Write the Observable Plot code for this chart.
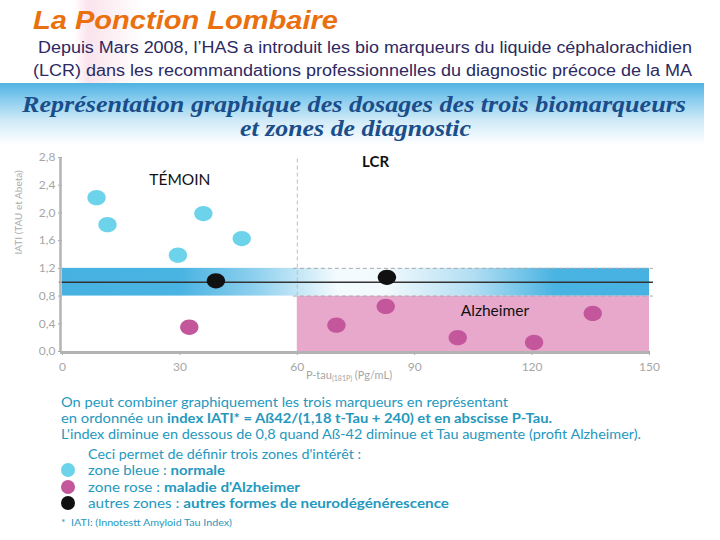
<!DOCTYPE html>
<html><head><meta charset="utf-8">
<script src="https://cdn.jsdelivr.net/npm/d3@7"></script>
<script src="https://cdn.jsdelivr.net/npm/@observablehq/plot@0.6"></script>
<style>
body{margin:0;width:720px;height:540px;overflow:hidden;background:#fff;position:relative;font-family:Lato,"Noto Sans",sans-serif}
.t{position:absolute;white-space:nowrap;line-height:1;transform-origin:0 50%}
#chart{position:absolute;left:0;top:140px}
.teal{color:#2598be;font-family:Lato,sans-serif;font-size:14px}
.teal b{font-weight:700}
.leg{position:absolute;width:14px;height:14px;border-radius:50%}
</style></head><body>
<div style="position:absolute;left:74px;top:0;width:70px;height:84px;background:linear-gradient(to right,rgba(248,218,230,0),rgba(248,218,230,.75) 20%,rgba(250,228,237,.35) 70%,rgba(255,255,255,0))"></div>
<div style="position:absolute;left:0;top:83px;width:704px;height:62px;background:linear-gradient(#4fb3e1,#86cbee 25%,#cfeaf7 60%,#ffffff 100%)"></div>

<div class="t" data-w="305" style="left:33px;top:6px;font:italic bold 25px 'Liberation Sans',Arial,sans-serif;color:#ea700e">La Ponction Lombaire</div>
<div class="t" data-w="654" style="left:38px;top:39px;font:16px 'Liberation Sans',Arial,sans-serif;color:#2b2a63">Depuis Mars 2008, l’HAS a introduit les bio marqueurs du liquide céphalorachidien</div>
<div class="t" data-w="659" style="left:33px;top:62px;font:16px 'Liberation Sans',Arial,sans-serif;color:#2b2a63">(LCR) dans les recommandations professionnelles du diagnostic précoce de la MA</div>

<div class="t" data-w="664" style="left:22px;top:92px;font:italic bold 23px 'Liberation Serif',serif;color:#1a4d8a">Représentation graphique des dosages des trois biomarqueurs</div>
<div class="t" data-w="231" style="left:240px;top:116px;font:italic bold 23px 'Liberation Serif',serif;color:#1a4d8a">et zones de diagnostic</div>

<div id="chart"></div>

<div class="t teal" data-w="447" style="left:61px;top:395px">On peut combiner graphiquement les trois marqueurs en représentant</div>
<div class="t teal" data-w="491" style="left:61px;top:411px">en ordonnée un <b>index IATI* = Aß42/(1,18 t-Tau + 240) et en abscisse P-Tau.</b></div>
<div class="t teal" data-w="580" style="left:61px;top:427px">L'index diminue en dessous de 0,8 quand Aß-42 diminue et Tau augmente (profit Alzheimer).</div>
<div class="t teal" data-w="273" style="left:88px;top:447px">Ceci permet de définir trois zones d'intérêt :</div>
<div class="leg" style="left:61px;top:463px;background:#6dd3ea"></div>
<div class="t teal" data-w="137" style="left:88px;top:463px">zone bleue : <b>normale</b></div>
<div class="leg" style="left:61px;top:480px;background:#c4579c"></div>
<div class="t teal" data-w="212" style="left:88px;top:480px">zone rose : <b>maladie d'Alzheimer</b></div>
<div class="leg" style="left:61px;top:496px;background:#111"></div>
<div class="t teal" data-w="361" style="left:88px;top:496px">autres zones : <b>autres formes de neurodégénérescence</b></div>
<div class="t teal" data-w="171" style="left:61px;top:517px;font-size:10px">* &nbsp;IATI: (Innotestt Amyloid Tau Index)</div>

<script>
// ---- data ----
const xTicks = [0, 30, 60, 90, 120, 150];
const yTicks = [0, 0.4, 0.8, 1.2, 1.6, 2.0, 2.4, 2.8];
const normalX = [8.7, 11.5, 36.0, 45.8, 29.5];
const normalY = [2.22, 1.83, 1.99, 1.63, 1.39];
const alzX = [32.4, 70.0, 82.6, 101.0, 120.5, 135.5];
const alzY = [0.35, 0.38, 0.65, 0.20, 0.13, 0.55];
const otherX = [39.2, 82.9];
const otherY = [1.02, 1.07];
const zoneLabels = ["TÉMOIN", "Alzheimer"];
const zoneLabelX = [30, 110.5];
const zoneLabelY = [2.47, 0.58];
const fluidLabel = ["LCR"];
const fluidLabelX = [80];
const fluidLabelY = [2.73];
const bandLow = 0.8, bandHigh = 1.2, refLine = 1.0, cutoffX = 60;
const xMax = 150, yMax = 2.8;

const pts = (xs, ys) => xs.map((x, i) => ({x, y: ys[i]}));
const lbls = (ts, xs, ys) => ts.map((t, i) => ({t, x: xs[i], y: ys[i]}));
const ellipse = {
  draw(ctx, size) {
    const r = Math.sqrt(size / Math.PI), rx = r * 1.08, ry = r * 0.9, k = 0.5523;
    ctx.moveTo(rx, 0);
    ctx.bezierCurveTo(rx, ry * k, rx * k, ry, 0, ry);
    ctx.bezierCurveTo(-rx * k, ry, -rx, ry * k, -rx, 0);
    ctx.bezierCurveTo(-rx, -ry * k, -rx * k, -ry, 0, -ry);
    ctx.bezierCurveTo(rx * k, -ry, rx, -ry * k, rx, 0);
    ctx.closePath();
  }
};
const gradDefs = () => {
  const defs = d3.create("svg:defs");
  const g = defs.append("linearGradient").attr("id", "bandGrad").attr("x1", 0).attr("x2", 1).attr("y1", 0).attr("y2", 0);
  [[0, "#47b2e2"], [0.2, "#49b3e2"], [0.33, "#8fd0ee"], [0.47, "#f4fbfe"], [0.55, "#f2fafd"], [0.7, "#b2def3"], [0.84, "#49b3e2"], [1, "#47b2e2"]]
    .forEach(([o, c]) => g.append("stop").attr("offset", o).attr("stop-color", c));
  return defs.node();
};

const fmt = d => d3.format(".1f")(d).replace(".", ",");
const chart = Plot.plot({
  width: 720, height: 250,
  marginLeft: 62, marginRight: 71, marginTop: 17, marginBottom: 39,
  x: {domain: [0, xMax]},
  y: {domain: [0, yMax]},
  style: {fontFamily: "Lato, sans-serif", background: "transparent", overflow: "visible"},
  marks: [
    gradDefs,
    Plot.rect([0], {x1: cutoffX, x2: xMax, y1: 0, y2: bandLow, fill: "#e7a8cb"}),
    Plot.rect([0], {x1: 0, x2: xMax, y1: bandLow, y2: bandHigh, fill: "url(#bandGrad)"}),
    Plot.ruleY([bandLow, bandHigh], {x1: cutoffX - 1, x2: xMax + 1, stroke: "#a9a9a9", strokeDasharray: "4,3"}),
    Plot.ruleX([cutoffX], {y1: bandLow, y2: yMax, stroke: "#bdbdbd", strokeDasharray: "4,3"}),
    Plot.ruleY([refLine], {x1: -0.8, x2: xMax + 1, stroke: "#333", strokeWidth: 1.5}),
    Plot.axisY({ticks: yTicks, tickFormat: fmt, tickSize: 4, tickPadding: 3, fontSize: 12, color: "#a6a6a6", label: null}),
    Plot.axisX({ticks: xTicks, tickSize: 4, tickPadding: 7, fontSize: 12, color: "#a6a6a6", label: null}),
    Plot.ruleX([0], {y1: 0, y2: yMax, stroke: "#b3b3b3", strokeWidth: 2.5, dx: -2}),
    Plot.ruleY([0], {x1: -0.5, x2: xMax, stroke: "#b3b3b3", strokeWidth: 3, dy: 1}),
    Plot.text(["IATI (TAU et Abeta)"], {frameAnchor: "left", rotate: -90, dx: -44, fontSize: 10, fill: "#ababab"}),
    Plot.text(["P-tau (Pg/mL)"], {frameAnchor: "bottom", dy: 27, dx: -7, fontSize: 11, fill: "#a6a6a6"}),
    Plot.dot(pts(normalX, normalY), {x: "x", y: "y", r: 8.5, symbol: ellipse, fill: "#6dd3ea"}),
    Plot.dot(pts(alzX, alzY), {x: "x", y: "y", r: 8.5, symbol: ellipse, fill: "#c4579c"}),
    Plot.dot(pts(otherX, otherY), {x: "x", y: "y", r: 8.5, symbol: ellipse, fill: "#111"}),
    Plot.text(lbls(zoneLabels, zoneLabelX, zoneLabelY), {x: "x", y: "y", text: "t", fontSize: 15.5, fill: "#111"}),
    Plot.text(lbls(fluidLabel, fluidLabelX, fluidLabelY), {x: "x", y: "y", text: "t", fontSize: 15, fontWeight: "bold", fill: "#111"})
  ]
});
document.getElementById("chart").append(chart);

// subscript in x label
d3.select(chart).selectAll("text").filter(function () { return this.textContent === "P-tau (Pg/mL)"; })
  .each(function () {
    const t = d3.select(this).text(null);
    t.append("tspan").text("P-tau");
    t.append("tspan").attr("font-size", 7).attr("dy", 2).text("(181P)");
    t.append("tspan").attr("dy", -2).text(" (Pg/mL)");
  });

// fit text lines to their widths in the reference
document.querySelectorAll("[data-w]").forEach(el => {
  const w = +el.dataset.w, m = el.getBoundingClientRect().width;
  if (m > 0) el.style.transform = `scaleX(${w / m})`;
});
</script>
</body></html>
